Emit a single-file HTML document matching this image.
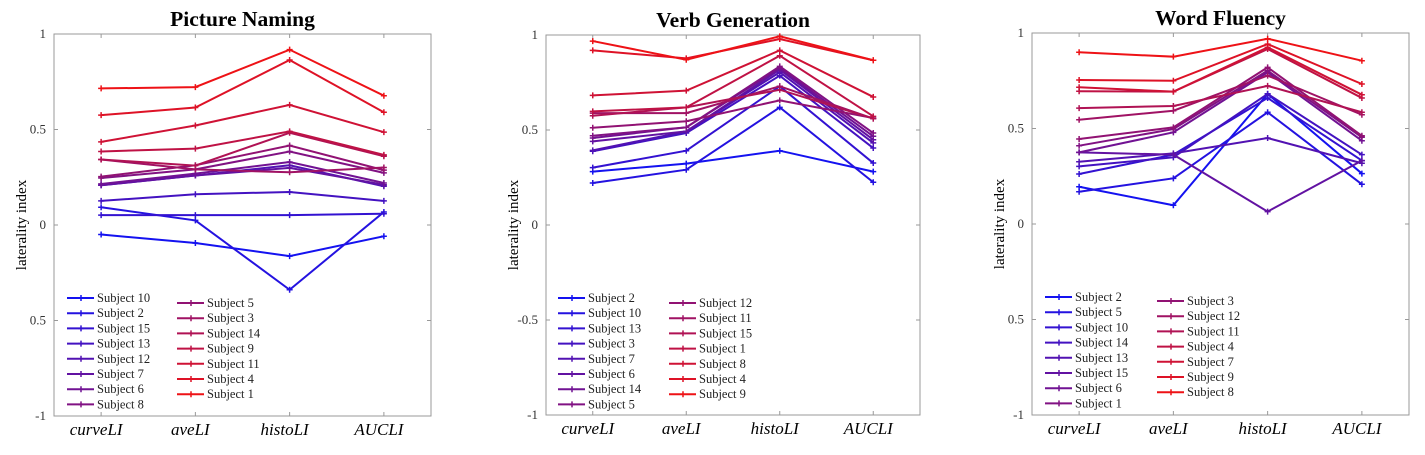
<!DOCTYPE html>
<html><head><meta charset="utf-8">
<style>
html,body{margin:0;padding:0;background:#fff;}
svg{display:block;font-family:"Liberation Serif",serif;}
</style></head>
<body>
<svg id="chart" width="1425" height="455" viewBox="0 0 1425 455" xmlns="http://www.w3.org/2000/svg"></svg>
<script>
const categories = ["curveLI","aveLI","histoLI","AUCLI"];
const yTickValues = [1,0.5,0,-0.5,-1];
const yTickLabelsP1 = ["1","0.5","0","0.5","-1"];
const yTickLabelsP2 = ["1","0.5","0","-0.5","-1"];
const yTickLabelsP3 = ["1","0.5","0","0.5","-1"];

const p1Subjects = ["Subject 10","Subject 2","Subject 15","Subject 13","Subject 12","Subject 7","Subject 6","Subject 8","Subject 5","Subject 3","Subject 14","Subject 9","Subject 11","Subject 4","Subject 1"];
const p1Values = [
[-0.05,-0.094,-0.163,-0.059],
[0.093,0.024,-0.339,0.068],
[0.052,0.052,0.052,0.059],
[0.126,0.161,0.173,0.126],
[0.208,0.259,0.313,0.203],
[0.208,0.259,0.299,0.211],
[0.215,0.269,0.33,0.22],
[0.246,0.291,0.385,0.273],
[0.253,0.313,0.416,0.287],
[0.343,0.291,0.276,0.301],
[0.343,0.311,0.483,0.36],
[0.385,0.4,0.49,0.367],
[0.435,0.521,0.629,0.486],
[0.575,0.615,0.864,0.59],
[0.715,0.722,0.918,0.677]];

const p2Subjects = ["Subject 2","Subject 10","Subject 13","Subject 3","Subject 7","Subject 6","Subject 14","Subject 5","Subject 12","Subject 11","Subject 15","Subject 1","Subject 8","Subject 4","Subject 9"];
const p2Values = [
[0.281,0.323,0.391,0.281],
[0.221,0.291,0.619,0.225],
[0.302,0.391,0.73,0.326],
[0.388,0.484,0.786,0.405],
[0.393,0.493,0.804,0.432],
[0.44,0.493,0.818,0.449],
[0.458,0.514,0.826,0.467],
[0.47,0.514,0.835,0.484],
[0.512,0.546,0.656,0.563],
[0.589,0.589,0.73,0.56],
[0.575,0.619,0.712,0.56],
[0.598,0.619,0.891,0.572],
[0.682,0.707,0.919,0.674],
[0.919,0.877,0.979,0.867],
[0.968,0.87,0.993,0.867]];

const p3Subjects = ["Subject 2","Subject 5","Subject 10","Subject 14","Subject 13","Subject 15","Subject 6","Subject 1","Subject 3","Subject 12","Subject 11","Subject 4","Subject 7","Subject 9","Subject 8"];
const p3Values = [
[0.195,0.098,0.681,0.264],
[0.169,0.239,0.585,0.208],
[0.262,0.363,0.66,0.332],
[0.302,0.349,0.681,0.363],
[0.326,0.37,0.45,0.318],
[0.375,0.363,0.065,0.332],
[0.375,0.48,0.794,0.436],
[0.41,0.497,0.803,0.454],
[0.445,0.506,0.82,0.462],
[0.546,0.593,0.777,0.572],
[0.607,0.618,0.723,0.585],
[0.695,0.693,0.916,0.66],
[0.716,0.693,0.925,0.677],
[0.754,0.75,0.942,0.733],
[0.899,0.876,0.97,0.855]];

const NS = "http://www.w3.org/2000/svg";
const svg = document.getElementById("chart");
function mk(tag, attrs, parent){
  const e = document.createElementNS(NS, tag);
  for (const k in attrs) e.setAttribute(k, attrs[k]);
  (parent||svg).appendChild(e);
  return e;
}
function colorAt(i, n){
  const t = i/(n-1);
  return "rgb("+Math.round(20+218*t)+",18,"+Math.round(240-218*t)+")";
}

const panels = [
 {key:"picture-naming", title:"Picture Naming", L:54, R:431, T:34, B:416, subjects:p1Subjects, values:p1Values, yLabels:yTickLabelsP1, leg1x:67, leg2x:177, leg1y:298, leg2y:303},
 {key:"verb-generation", title:"Verb Generation", L:546, R:920, T:35, B:415, subjects:p2Subjects, values:p2Values, yLabels:yTickLabelsP2, leg1x:558, leg2x:669, leg1y:298, leg2y:303},
 {key:"word-fluency", title:"Word Fluency", L:1032, R:1409, T:33, B:415, subjects:p3Subjects, values:p3Values, yLabels:yTickLabelsP3, leg1x:1045, leg2x:1157, leg1y:297, leg2y:301}
];

panels.forEach(p => {
  const g = mk("g", {});
  
  
  const xs = i => p.L + (p.R-p.L)*(i+0.5)/categories.length;
  const ys = v => p.T + (1-v)/2*(p.B-p.T);

  const frame = mk("rect", {x:p.L, y:p.T, width:p.R-p.L, height:p.B-p.T, fill:"none", stroke:"#999", "stroke-width":1}, g);
  
  

  const title = mk("text", {x:(p.L+p.R)/2, y:p.T-8, "text-anchor":"middle", "font-size":21.5, "font-weight":"bold", fill:"#000"}, g);
  title.textContent = p.title;
  
  

  yTickValues.forEach((v,i) => {
    const y = ys(v);
    mk("line", {x1:p.L, x2:p.L+4, y1:y, y2:y, stroke:"#999"}, g);
    mk("line", {x1:p.R, x2:p.R-4, y1:y, y2:y, stroke:"#999"}, g);
    const t = mk("text", {x:p.L-8, y:y+4, "text-anchor":"end", "font-size":13, fill:"#333"}, g);
    t.textContent = p.yLabels[i];
    
    
  });
  categories.forEach((c,i) => {
    const x = xs(i);
    mk("line", {x1:x, x2:x, y1:p.B, y2:p.B-4, stroke:"#999"}, g);
    mk("line", {x1:x, x2:x, y1:p.T, y2:p.T+4, stroke:"#999"}, g);
    const t = mk("text", {x:x-5, y:p.B+19, "text-anchor":"middle", "font-size":17, "font-style":"italic", fill:"#000"}, g);
    t.textContent = c;
    
    
  });
  const yl = mk("text", {x:0, y:0, "text-anchor":"middle", "font-size":15, fill:"#000", transform:"translate("+(p.L-28)+","+((p.T+p.B)/2)+") rotate(-90)"}, g);
  yl.textContent = "laterality index";
  
  

  const n = p.subjects.length;
  p.values.forEach((vals, si) => {
    const col = colorAt(si, n);
    const s = mk("g", {}, g);
    
    
    const pts = vals.map((v,i) => xs(i)+","+ys(v)).join(" ");
    mk("polyline", {points:pts, fill:"none", stroke:col, "stroke-width":2}, s);
    vals.forEach((v,i) => {
      const x = xs(i), y = ys(v);
      mk("path", {d:"M"+(x-3)+" "+y+"H"+(x+3)+"M"+x+" "+(y-3)+"V"+(y+3), stroke:col, "stroke-width":1.5}, s);
    });
  });

  const leg = mk("g", {}, g);
  
  
  p.subjects.forEach((name, si) => {
    const col = colorAt(si, n);
    const c2 = si >= 8;
    const lx = c2 ? p.leg2x : p.leg1x;
    const ly = (c2 ? p.leg2y : p.leg1y) + (c2 ? si-8 : si)*15.2;
    const e = mk("g", {}, leg);
    
    
    mk("line", {x1:lx, x2:lx+27, y1:ly, y2:ly, stroke:col, "stroke-width":2}, e);
    mk("path", {d:"M"+(lx+11)+" "+ly+"H"+(lx+17)+"M"+(lx+14)+" "+(ly-3)+"V"+(ly+3), stroke:col, "stroke-width":1.5}, e);
    const t = mk("text", {x:lx+30, y:ly+4, "font-size":12.5, fill:"#222"}, e);
    t.textContent = name;
  });
});
</script>
</body></html>
